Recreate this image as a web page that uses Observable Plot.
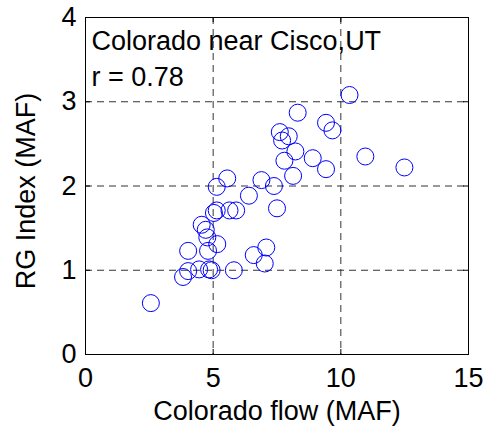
<!DOCTYPE html>
<html>
<head>
<meta charset="utf-8">
<script src="https://cdn.jsdelivr.net/npm/d3@7"></script>
<script src="https://cdn.jsdelivr.net/npm/@observablehq/plot@0.6"></script>
<style>
  html, body { margin: 0; padding: 0; background: #fff; }
  #chart svg { display: block; }
</style>
</head>
<body>
<div id="chart"></div>
<script>
// Colorado flow (MAF) vs RG Index (MAF)
const flow = [2.56, 3.82, 4.02, 4.45, 4.84, 4.94, 5.81, 4.02, 4.80, 5.16,
              4.77, 4.71, 4.55, 5.03, 5.14, 5.64, 5.90, 5.14, 5.55, 6.40,
              6.89, 7.38, 7.50, 6.59, 7.08, 7.02, 8.13, 7.79, 8.90, 8.22,
              7.70, 7.96, 7.61, 8.31, 9.42, 9.67, 10.34, 10.96, 12.49, 9.42];
const rgIndex = [0.61, 0.92, 0.99, 1.01, 1.01, 1.00, 1.00, 1.23, 1.23, 1.31,
                 1.39, 1.48, 1.54, 1.68, 1.71, 1.71, 1.71, 1.99, 2.09, 1.885,
                 2.07, 2.00, 1.735, 1.18, 1.27, 1.08, 2.12, 2.30, 2.33, 2.41,
                 2.54, 2.59, 2.64, 2.87, 2.75, 2.66, 3.08, 2.35, 2.22, 2.20];
const xTicks = [0, 5, 10, 15];
const yTicks = [0, 1, 2, 3, 4];
const xGrid = [5, 10];
const yGrid = [1, 2, 3];
const xLabel = "Colorado flow (MAF)";
const yLabel = "RG Index (MAF)";
const annotation = ["Colorado near Cisco,UT", "r = 0.78"];

const points = flow.map((f, i) => ({flow: f, rg: rgIndex[i]}));

const chart = Plot.plot({
  width: 485,
  height: 431,
  marginLeft: 85,
  marginRight: 17,
  marginTop: 17,
  marginBottom: 77,
  style: {fontFamily: "Arial, 'Liberation Sans', sans-serif", fontSize: "27px", color: "#000", background: "#fff"},
  x: {domain: [0, 15]},
  y: {domain: [0, 4]},
  marks: [
    Plot.gridX(xGrid, {stroke: "#333", strokeOpacity: 1, strokeDasharray: "7,5"}),
    Plot.gridY(yGrid, {stroke: "#333", strokeOpacity: 1, strokeDasharray: "7,5"}),
    Plot.axisX(xTicks, {tickSize: 0, tickPadding: 13, tickFormat: d3.format("d"), label: null, fill: "#000"}),
    Plot.axisY(yTicks, {tickSize: 0, tickPadding: 9, tickFormat: d3.format("d"), label: null, fill: "#000"}),
    Plot.tickX(xTicks, {x: d => d, stroke: "#000", insetTop: 332}),
    Plot.tickX(xTicks, {x: d => d, stroke: "#000", insetBottom: 332}),
    Plot.tickY(yTicks, {y: d => d, stroke: "#000", insetRight: 378}),
    Plot.tickY(yTicks, {y: d => d, stroke: "#000", insetLeft: 378}),
    Plot.dot(points, {x: "flow", y: "rg", r: 8.5, stroke: "#0000ff", strokeWidth: 1, fill: "none"}),
    Plot.text([annotation.join("\n")], {frameAnchor: "top-left", dx: 6, dy: 8, lineAnchor: "top", lineHeight: 1.3, fill: "#000", fontSize: 27, textAnchor: "start"}),
    Plot.text([xLabel], {frameAnchor: "bottom", dy: 57, lineAnchor: "middle", textAnchor: "middle", fill: "#000", fontSize: 27}),
    Plot.text([yLabel], {frameAnchor: "left", dx: -59, dy: 5, rotate: -90, lineAnchor: "middle", textAnchor: "middle", fill: "#000", fontSize: 27}),
    Plot.frame({stroke: "#000", strokeWidth: 1})
  ]
});
document.getElementById("chart").appendChild(chart);
</script>
</body>
</html>
